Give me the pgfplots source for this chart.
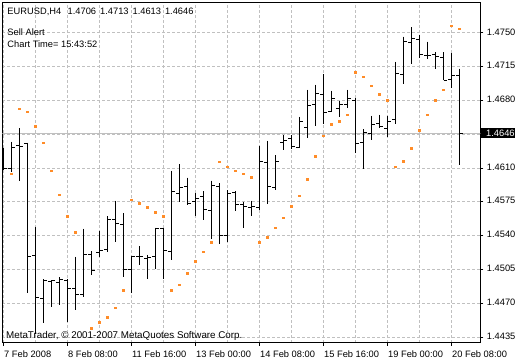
\documentclass[border=0pt]{standalone}
\usepackage{pgfplots}
\pgfplotsset{compat=1.18}
\usepackage{pgfplotstable}
\usepackage{fontspec}
\setmainfont{Liberation Sans}
\definecolor{gridc}{RGB}{192,192,192}
\definecolor{sarc}{RGB}{255,140,40}
\pgfplotstableread{
x o h l c
0 1.4612 1.4631 1.4608 1.4610
1 1.4610 1.4637 1.4606 1.4631
2 1.4633 1.4651 1.4597 1.4632
3 1.4635 1.4636 1.4481 1.4518
4 1.4519 1.4549 1.4438 1.4476
5 1.4475 1.4495 1.4449 1.4493
6 1.4492 1.4494 1.4466 1.4493
7 1.4491 1.4497 1.4468 1.4495
8 1.4494 1.4495 1.4451 1.4485
9 1.4485 1.4518 1.4463 1.4479
10 1.4479 1.4547 1.4476 1.4520
11 1.4520 1.4524 1.4499 1.4504
12 1.4523 1.4545 1.4518 1.4525
13 1.4526 1.4560 1.4523 1.4557
14 1.4557 1.4576 1.4533 1.4553
15 1.4552 1.4563 1.4497 1.4505
16 1.4505 1.4519 1.4481 1.4518
17 1.4518 1.4529 1.4510 1.4518
18 1.4516 1.4520 1.4495 1.4517
19 1.4518 1.4548 1.4505 1.4547
20 1.4547 1.4548 1.4495 1.4525
21 1.4524 1.4607 1.4515 1.4586
22 1.4584 1.4614 1.4575 1.4590
23 1.4591 1.4600 1.4572 1.4573
24 1.4575 1.4584 1.4560 1.4578
25 1.4580 1.4586 1.4556 1.4567
26 1.4566 1.4597 1.4536 1.4592
27 1.4591 1.4594 1.4531 1.4540
28 1.4540 1.4587 1.4533 1.4584
29 1.4585 1.4586 1.4566 1.4572
30 1.4572 1.4575 1.4548 1.4570
31 1.4569 1.4576 1.4560 1.4570
32 1.4569 1.4633 1.4567 1.4617
33 1.4616 1.4638 1.4573 1.4591
34 1.4590 1.4623 1.4587 1.4617
35 1.4636 1.4644 1.4629 1.4639
36 1.4641 1.4644 1.4630 1.4632
37 1.4631 1.4663 1.4631 1.4658
38 1.4652 1.4691 1.4641 1.4675
39 1.4676 1.4696 1.4653 1.4687
40 1.4686 1.4707 1.4656 1.4668
41 1.4669 1.4690 1.4668 1.4682
42 1.4672 1.4679 1.4663 1.4676
43 1.4676 1.4691 1.4672 1.4682
44 1.4680 1.4682 1.4626 1.4635
45 1.4636 1.4650 1.4609 1.4647
46 1.4646 1.4664 1.4639 1.4655
47 1.4656 1.4665 1.4651 1.4653
48 1.4651 1.4664 1.4642 1.4658
49 1.4660 1.4720 1.4656 1.4708
50 1.4707 1.4746 1.4697 1.4741
51 1.4740 1.4756 1.4718 1.4744
52 1.4743 1.4748 1.4724 1.4728
53 1.4727 1.4741 1.4723 1.4727
54 1.4728 1.4730 1.4713 1.4725
55 1.4724 1.4730 1.4701 1.4701
56 1.4702 1.4729 1.4693 1.4706
57 1.4706 1.4713 1.4613 1.4646
}\ohlc
\pgfplotstableread{
x s
1 1.4604
2 1.4671
3 1.4668
4 1.4653
5 1.4636
6 1.4607
7 1.4582
8 1.4560
9 1.4543
11 1.4444
12 1.4450
13 1.4455
14 1.4465
15 1.4483
16 1.4577
17 1.4573
18 1.4569
19 1.4564
20 1.4560
21 1.4483
22 1.4489
23 1.4501
24 1.4513
25 1.4523
26 1.4533
27 1.4616
28 1.4611
29 1.4607
30 1.4604
31 1.4600
32 1.4533
33 1.4538
34 1.4548
35 1.4558
36 1.4570
37 1.4581
38 1.4598
39 1.4622
40 1.4643
41 1.4655
42 1.4658
43 1.4665
44 1.4709
45 1.4704
46 1.4695
47 1.4686
48 1.4680
49 1.4611
50 1.4617
51 1.4630
52 1.4649
53 1.4665
54 1.4680
55 1.4691
56 1.4757
57 1.4754
}\sar
\begin{document}
\begin{tikzpicture}
\path[use as bounding box, fill=white] (0,0) rectangle (520pt,360pt);
\begin{axis}[
  at={(2.3pt,17.3pt)}, anchor=south west,
  scale only axis, width=478pt, height=340.5pt,
  xmin=-0.15, xmax=59.6, ymin=1.44291, ymax=1.47817,
  axis line style={black, line width=1pt},
  tick align=outside, xtick pos=left, ytick pos=right,
  xticklabel pos=left, yticklabel pos=right,
  major tick length=3pt, minor tick length=0pt,
  tick style={black, line width=1pt},
  xtick={0,8,...,56}, minor xtick={4,12,...,52},
  xticklabels={7 Feb 2008, 8 Feb 08:00, 11 Feb 16:00, 13 Feb 00:00, 14 Feb 08:00, 15 Feb 16:00, 19 Feb 00:00, 20 Feb 08:00},
  ytick={1.4435,1.4470,1.4505,1.4540,1.4575,1.4610,1.4645,1.4680,1.4715,1.4750},
  yticklabels={1.4435,1.4470,1.4505,1.4540,1.4575,1.4610,{},1.4680,1.4715,1.4750},
  grid=both,
  major grid style={gridc, dash pattern=on 3pt off 2pt, line width=1pt},
  minor grid style={gridc, dash pattern=on 3pt off 2pt, line width=1pt},
  ticklabel style={font=\fontsize{9.3}{10}\selectfont, inner sep=0pt},
  xticklabel style={anchor=base west, yshift=-12pt, xshift=0.5pt},
  yticklabel style={anchor=west, xshift=3.4pt, yshift=1pt},
  hidden/.style={only marks, mark=*, mark size=0pt, mark options={draw=none, fill=none}},
]
\addplot[gridc, line width=1pt, forget plot] coordinates {(-1,1.4646) (61,1.4646)};
\addplot[color=sarc, only marks, mark=square*, mark size=0.75pt, mark options={draw=sarc, fill=sarc, line width=0pt}] table[x=x, y=s] {\sar};
\addplot[hidden, error bars/.cd, y dir=minus, y explicit, error mark=none,
  error bar style={draw=black, line width=1pt}]
  table[x=x, y=h, y error minus expr=\thisrow{h}-\thisrow{l}] {\ohlc};
\addplot[hidden, error bars/.cd, x dir=minus, x fixed=0.4, error mark=none,
  error bar style={draw=black, line width=1pt}]
  table[x=x, y=o] {\ohlc};
\addplot[hidden, error bars/.cd, x dir=plus, x fixed=0.4, error mark=none,
  error bar style={draw=black, line width=1pt}]
  table[x=x, y=c] {\ohlc};
\coordinate (pbox) at (axis cs:59.6,1.4646);
\end{axis}
\node[fill=black, text=white, anchor=west, inner xsep=0pt, inner ysep=0pt, minimum height=10pt, font=\fontsize{9.3}{10}\selectfont] at ([xshift=0.7pt]pbox) {\hspace{5pt}1.4646\hspace{1.5pt}};
\begin{scope}[every node/.style={anchor=base west, inner sep=0pt, font=\fontsize{9.3}{10}\selectfont}]
\node at (7.3pt,346pt) {EURUSD,H4\hspace{6.5pt}1.4706\hspace{4pt}1.4713\hspace{4pt}1.4613\hspace{4pt}1.4646};
\node at (7.3pt,324.3pt) {Sell Alert};
\node at (7.3pt,312.3pt) {Chart Time= 15:43:52};
\node[font=\fontsize{9.8}{10}\selectfont] at (6pt,21.3pt) {MetaTrader, © 2001-2007 MetaQuotes Software Corp.};
\end{scope}
\end{tikzpicture}
\end{document}
